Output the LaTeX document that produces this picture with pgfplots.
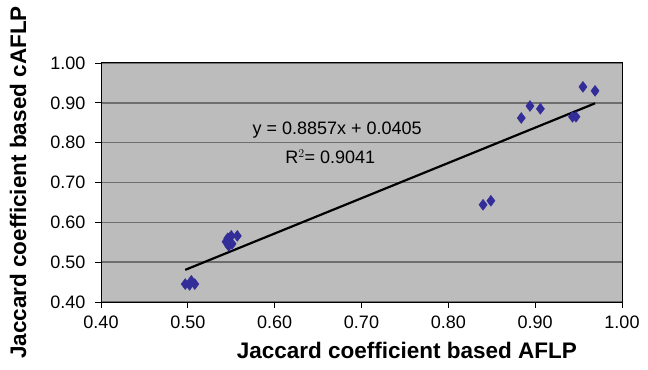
\documentclass[border=0pt]{standalone}
\usepackage{pgfplots}
\pgfplotsset{compat=1.18}
\usepackage{fontspec}
\setmainfont{Liberation Sans}
\definecolor{bg}{RGB}{188,188,188}
\definecolor{gridc}{RGB}{110,110,110}
\definecolor{mk}{RGB}{51,45,153}
\begin{document}
\begin{tikzpicture}
\useasboundingbox (-101bp,-68bp) rectangle (547bp,302bp);
\begin{axis}[
  scale only axis,
  width=521bp, height=239bp,
  xmin=0.4, xmax=1.0, ymin=0.4, ymax=1.0,
  xtick={0.4,0.5,...,1.01}, ytick={0.4,0.5,...,1.01},
  /pgf/number format/assume math mode=true,
  /pgf/number format/.cd, fixed, fixed zerofill, precision=2, /pgfplots/.cd,
  tick label style={font=\fontsize{18bp}{20bp}\selectfont, text=black},
  xticklabel style={yshift=-4bp},
  yticklabel style={xshift=-6bp},
  tick align=outside, tickwidth=6bp,
  tick style={black, line width=0.8pt},
  xtick pos=bottom, ytick pos=left,
  axis background/.style={fill=bg},
  ymajorgrids, grid style={gridc, line width=1.6pt},
  axis line style={black, line width=1pt},
  xlabel={\bfseries Jaccard coefficient based AFLP},
  ylabel={\bfseries Jaccard coefficient based cAFLP},
  label style={font=\fontsize{22.5bp}{24bp}\selectfont},
  xlabel style={at={(axis description cs:0.587,0)}, anchor=north, yshift=-37bp},
  ylabel style={at={(axis description cs:-0.159,0.5)}, anchor=center},
]
\addplot[only marks, mark=diamond*, mark size=5.5bp, mark options={fill=mk, draw=mk}] coordinates {
(0.497,0.445) (0.504,0.453) (0.508,0.445) (0.502,0.443)
(0.544,0.551) (0.547,0.541) (0.551,0.546) (0.550,0.566) (0.557,0.566) (0.546,0.560)
(0.840,0.644) (0.849,0.654)
(0.884,0.862) (0.894,0.892) (0.906,0.885) (0.943,0.865) (0.947,0.865)
(0.955,0.940) (0.969,0.930)
};
\addplot[black, line width=2.2pt] coordinates {(0.497,0.4807) (0.969,0.8988)};
\node[font=\fontsize{18bp}{20bp}\selectfont] at (axis cs:0.672,0.832) {y = 0.8857x + 0.0405};
\node[font=\fontsize{18bp}{20bp}\selectfont] at (axis cs:0.664,0.764) {R$^{2}$= 0.9041};
\end{axis}
\end{tikzpicture}
\end{document}
